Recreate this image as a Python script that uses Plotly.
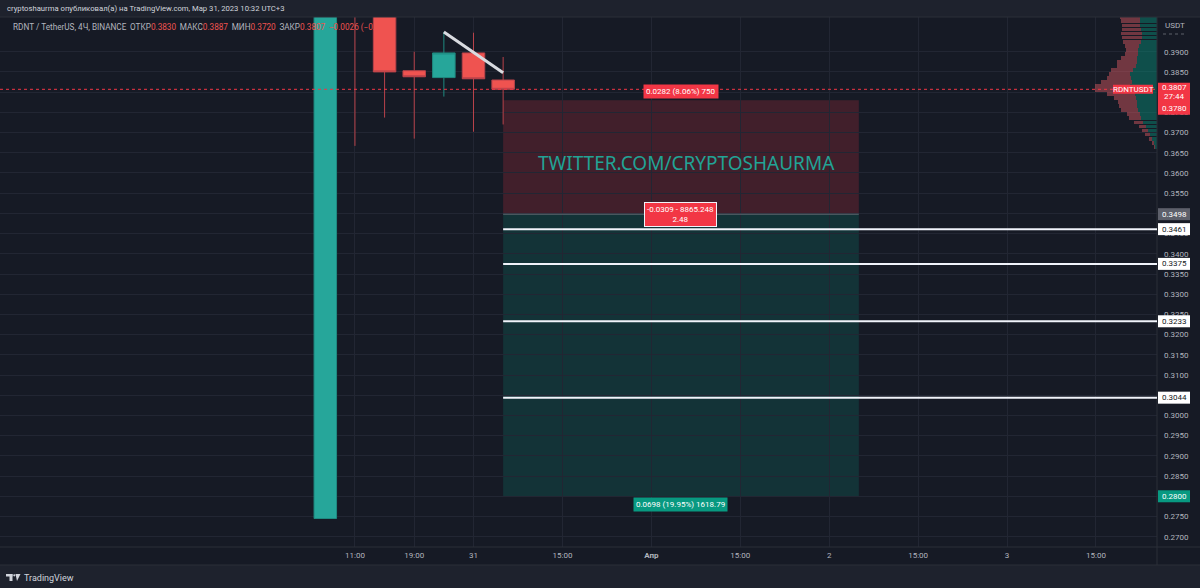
import plotly.graph_objects as go

# ---------------- data ----------------
# candle open times in hours relative to the "31" tick (4h candles)
candle_t = [-20, -16, -12, -8, -4, 0, 4]
candle_open = [0.2745, 0.4150, 0.4050, 0.3853, 0.3836, 0.3897, 0.3830]
candle_high = [0.4300, 0.4200, 0.4100, 0.3900, 0.3949, 0.3947, 0.3887]
candle_low = [0.2745, 0.3667, 0.3737, 0.3685, 0.3789, 0.3702, 0.3720]
candle_close = [0.4250, 0.4050, 0.3850, 0.3838, 0.3897, 0.3833, 0.3807]

time_tick_vals = [-16, -8, 0, 12, 24, 36, 48, 60, 72, 84]
time_tick_text = ["11:00", "19:00", "31", "15:00", "<b>Апр</b>", "15:00", "2", "15:00", "3", "15:00"]

price_tick_text = ["0.2700", "0.2750", "0.2800", "0.2850", "0.2900", "0.2950", "0.3000",
                   "0.3050", "0.3100", "0.3150", "0.3200", "0.3250", "0.3300", "0.3350",
                   "0.3400", "0.3450", "0.3500", "0.3550", "0.3600", "0.3650", "0.3700",
                   "0.3750", "0.3800", "0.3850", "0.3900"]
price_tick_vals = [float(s) for s in price_tick_text]

last_price = 0.3807
pos_start, pos_end = 4, 52
pos_entry, pos_stop, pos_target = 0.3498, 0.3780, 0.2800
target_levels = [0.3461, 0.3375, 0.3233, 0.3044]
target_labels = ["0.3461", "0.3375", "0.3233", "0.3044"]
trend_t = [-4, 4]
trend_p = [0.3949, 0.3848]

# visible-range volume profile (price row centre, up volume, down volume)
vp_price = [0.3985, 0.3975, 0.3965, 0.3955, 0.3945, 0.3935, 0.3925, 0.3915, 0.3905, 0.3895,
            0.3885, 0.3875, 0.3865, 0.3855, 0.3845, 0.3835, 0.3825, 0.3815, 0.3805, 0.3795,
            0.3785, 0.3775, 0.3765, 0.3755, 0.3745, 0.3735, 0.3725, 0.3715, 0.3705, 0.3695,
            0.3685, 0.3675, 0.3665]
vp_up = [17, 17, 17, 16, 15, 15, 16, 18, 19, 19, 20, 20, 21, 24, 27, 26, 25, 27, 24, 22,
         21, 20, 20, 19, 17, 16, 14, 11, 9, 7, 5, 3, 2]
vp_down = [20, 19, 18, 19, 21, 20, 18, 14, 12, 13, 16, 20, 19, 22, 21, 24, 31, 35, 38, 28,
           22, 19, 18, 17, 13, 12, 9, 7, 6, 5, 3, 2, 1]

# ---------------- style ----------------
BG = "#161a25"
BAR_BG = "#1e222d"
GRID = "#222633"
TXT = "#b2b5be"
RED = "#f23645"
CRED = "#ef5350"
GREEN = "#26a69a"
TEAL = "#089981"
FONT = "Roboto"

W, H = 1200, 588
ML, MR, MT, MB = 0, 43, 17, 41
PW, PH = W - ML - MR, H - MT - MB

X_RANGE = [-63.9, 92.24]
Y_RANGE = [0.26745, 0.39859]


def px2x(px):
    return (px - ML) / PW


def py2y(py):
    return (H - MB - py) / PH


fig = go.Figure()

# volume profile (on a hidden overlay axis growing from the right edge)
fig.add_trace(go.Bar(y=vp_price, x=vp_up, orientation="h", xaxis="x2", yaxis="y",
                     width=0.00095, marker=dict(color="rgba(8,153,129,0.42)", line=dict(width=0)),
                     hoverinfo="skip", showlegend=False))
fig.add_trace(go.Bar(y=vp_price, x=vp_down, orientation="h", xaxis="x2", yaxis="y",
                     width=0.00095, marker=dict(color="rgba(240,95,105,0.42)", line=dict(width=0)),
                     hoverinfo="skip", showlegend=False))

fig.add_trace(go.Candlestick(
    x=candle_t, open=candle_open, high=candle_high, low=candle_low, close=candle_close,
    increasing=dict(fillcolor=GREEN, line=dict(color="#1f8a80", width=1)),
    decreasing=dict(fillcolor=CRED, line=dict(color="#b8424a", width=1)),
    whiskerwidth=0, hoverinfo="skip", showlegend=False))

shapes = []
# header strip and bottom bar
shapes.append(dict(type="rect", xref="paper", yref="paper", x0=px2x(-5), x1=px2x(1205),
                   y0=py2y(MT), y1=py2y(-5), fillcolor=BAR_BG, line=dict(width=0), layer="below"))
shapes.append(dict(type="rect", xref="paper", yref="paper", x0=px2x(-5), x1=px2x(1205),
                   y0=py2y(565), y1=py2y(595), fillcolor=BAR_BG, line=dict(width=0), layer="below"))
# separators
shapes.append(dict(type="line", xref="paper", yref="paper", x0=0, x1=px2x(1205), y0=1.0, y1=1.0,
                   line=dict(color="#2a2e39", width=1)))
shapes.append(dict(type="line", xref="paper", yref="paper", x0=1.0, x1=1.0, y0=py2y(565), y1=1.0,
                   line=dict(color="#2a2e39", width=1)))
shapes.append(dict(type="line", xref="paper", yref="paper", x0=0, x1=px2x(1205), y0=0, y1=0,
                   line=dict(color="#2a2e39", width=1)))
shapes.append(dict(type="line", xref="paper", yref="paper", x0=0, x1=px2x(1205),
                   y0=py2y(565), y1=py2y(565), line=dict(color="#2a2e39", width=1)))
# position tool zones
shapes.append(dict(type="rect", xref="x", yref="y", x0=pos_start, x1=pos_end, y0=pos_entry, y1=pos_stop,
                   fillcolor="rgba(242,54,69,0.2)", line=dict(width=0), layer="below"))
shapes.append(dict(type="rect", xref="x", yref="y", x0=pos_start, x1=pos_end, y0=pos_target, y1=pos_entry,
                   fillcolor="rgba(8,153,129,0.2)", line=dict(width=0), layer="below"))
shapes.append(dict(type="line", xref="x", yref="y", x0=pos_start, x1=pos_end, y0=pos_entry, y1=pos_entry,
                   line=dict(color="rgba(180,185,195,0.45)", width=1)))
# current price dotted line
shapes.append(dict(type="line", xref="paper", yref="y", x0=0, x1=1, y0=last_price, y1=last_price,
                   line=dict(color=RED, width=1, dash="dot")))
# target horizontal lines
for lv in target_levels:
    shapes.append(dict(type="line", xref="x", yref="y", x0=pos_start, x1=X_RANGE[1], y0=lv, y1=lv,
                       line=dict(color="#f0f3fa", width=2)))
# trend line
shapes.append(dict(type="line", xref="x", yref="y", x0=trend_t[0], x1=trend_t[1],
                   y0=trend_p[0], y1=trend_p[1], line=dict(color="#d9dbe0", width=3)))


# price-axis label boxes (pixel-sized around a price level)
def axis_box(level, color, top=6, bottom=-6, x0px=1158, x1px=1190):
    return dict(type="rect", xref="paper", yref="y", x0=px2x(x0px), x1=px2x(x1px),
                ysizemode="pixel", yanchor=level, y0=bottom, y1=top,
                fillcolor=color, line=dict(width=0), layer="above")


shapes.append(axis_box(last_price, RED, top=6.6, bottom=-25.4))
shapes.append(axis_box(pos_entry, "#5d606b"))
for lv in target_levels:
    shapes.append(axis_box(lv, "#ffffff"))
shapes.append(axis_box(pos_target, TEAL))
shapes.append(axis_box(last_price, RED, top=4.5, bottom=-4.5, x0px=1113, x1px=1153))
# USDT dotted underline
shapes.append(dict(type="line", xref="paper", yref="paper", x0=px2x(1163), x1=px2x(1184),
                   y0=py2y(34), y1=py2y(34), line=dict(color="#5d606b", width=1, dash="dot")))
# TradingView logo glyph
LOGO = "#d1d4dc"
shapes.append(dict(type="rect", xref="paper", yref="paper", x0=px2x(6), x1=px2x(12.5),
                   y0=py2y(576.5), y1=py2y(574), fillcolor=LOGO, line=dict(width=0)))
shapes.append(dict(type="rect", xref="paper", yref="paper", x0=px2x(9.5), x1=px2x(12.5),
                   y0=py2y(581), y1=py2y(574), fillcolor=LOGO, line=dict(width=0)))
shapes.append(dict(type="circle", xref="paper", yref="paper", x0=px2x(13.2), x1=px2x(15.4),
                   y0=py2y(576.4), y1=py2y(574.2), fillcolor=LOGO, line=dict(width=0)))
shapes.append(dict(type="path", xref="paper", yref="paper",
                   path="M %f,%f L %f,%f L %f,%f Z" % (px2x(15.5), py2y(574), px2x(20.5), py2y(574),
                                                       px2x(17), py2y(581)),
                   fillcolor=LOGO, line=dict(width=0)))

ann = []
ann.append(dict(xref="paper", yref="paper", x=px2x(5), y=py2y(8.5), xanchor="left", yanchor="middle",
                text="cryptoshaurma опубликовал(а) на TradingView.com, Мар 31, 2023 10:32 UTC+3",
                showarrow=False, font=dict(family=FONT, size=7.7, color="#d1d4dc")))
SP = " \u2009"
legend_txt = ("RDNT / TetherUS, 4Ч, BINANCE" + SP + "ОТКР<span style='color:%s'>0.3830</span>" + SP +
              "МАКС<span style='color:%s'>0.3887</span>" + SP + "МИН<span style='color:%s'>0.3720</span>" + SP +
              "ЗАКР<span style='color:%s'>0.3807</span>" + SP + "<span style='color:%s'>−0.0026 (−0.68%%)</span>")
legend_txt = legend_txt % (CRED, CRED, CRED, CRED, CRED)
ann.append(dict(xref="paper", yref="paper", x=px2x(11), y=py2y(27), xanchor="left", yanchor="middle",
                text=legend_txt, showarrow=False, font=dict(family=FONT, size=8.2, color=TXT)))
# watermark
ann.append(dict(xref="x", yref="y", x=28.8, y=0.3625, text="TWITTER.COM/CRYPTOSHAURMA",
                showarrow=False, font=dict(family="Noto Sans", size=19, color="#22a396")))
# position labels
ann.append(dict(xref="x", yref="y", x=28, y=pos_stop, yanchor="bottom", yshift=1,
                text="0.0282 (8.06%) 750", showarrow=False, bgcolor=RED, borderpad=2,
                font=dict(family=FONT, size=8, color="white")))
ann.append(dict(xref="x", yref="y", x=28, y=pos_entry, yanchor="middle",
                text="-0.0309 - 8865.248<br>2.48", showarrow=False, bgcolor=RED, borderpad=2,
                bordercolor="#f0f3fa", borderwidth=1,
                font=dict(family=FONT, size=8, color="white")))
ann.append(dict(xref="x", yref="y", x=28, y=pos_target, yanchor="top", yshift=-1,
                text="0.0698 (19.95%) 1618.79", showarrow=False, bgcolor=TEAL, borderpad=2,
                font=dict(family=FONT, size=8, color="white")))


# price axis label texts
def axis_text(level, text, fg, yshift=0, xpx=1174):
    return dict(xref="paper", yref="y", x=px2x(xpx), y=level, xanchor="center", yanchor="middle",
                yshift=yshift, text=text, showarrow=False,
                font=dict(family=FONT, size=8, color=fg))


ann.append(axis_text(last_price, "0.3807", "white", yshift=1.8))
ann.append(axis_text(last_price, "27:44", "white", yshift=-7.2))
ann.append(axis_text(last_price, "0.3780", "white", yshift=-19.6))
ann.append(axis_text(pos_entry, "0.3498", "white"))
for lv, lt in zip(target_levels, target_labels):
    ann.append(axis_text(lv, lt, "#131722"))
ann.append(axis_text(pos_target, "0.2800", "white"))
ann.append(axis_text(last_price, "RDNTUSDT", "white", xpx=1133))
ann.append(dict(xref="paper", yref="paper", x=px2x(1163), y=py2y(25), xanchor="left", yanchor="middle",
                text="USDT", showarrow=False, font=dict(family=FONT, size=8, color=TXT)))
# TradingView logo text
ann.append(dict(xref="paper", yref="paper", x=px2x(22), y=py2y(577.5), xanchor="left", yanchor="middle",
                text="TradingView", showarrow=False,
                font=dict(family=FONT, size=9, color="#d1d4dc")))

fig.update_layout(
    width=W, height=H,
    margin=dict(l=ML, r=MR, t=MT, b=MB),
    paper_bgcolor=BG, plot_bgcolor=BG,
    barmode="stack", boxgap=0.24, boxgroupgap=0,
    showlegend=False,
    shapes=shapes, annotations=ann,
    xaxis=dict(range=X_RANGE, tickvals=time_tick_vals, ticktext=time_tick_text,
               showgrid=True, gridcolor=GRID, zeroline=False, showline=False,
               tickfont=dict(family=FONT, size=8, color=TXT), ticks="", ticklabelstandoff=2,
               rangeslider=dict(visible=False), fixedrange=True),
    xaxis2=dict(range=[PW, 0], overlaying="x", anchor="y", visible=False, fixedrange=True),
    yaxis=dict(range=Y_RANGE, side="right", tickvals=price_tick_vals, ticktext=price_tick_text,
               showgrid=True, gridcolor=GRID, zeroline=False, showline=False,
               tickfont=dict(family=FONT, size=8, color=TXT), ticks="", ticklabelstandoff=6,
               fixedrange=True),
)

fig.write_html("out.html", config={"displayModeBar": False},
               post_script="document.body.style.margin='0';document.body.style.overflow='hidden';")
